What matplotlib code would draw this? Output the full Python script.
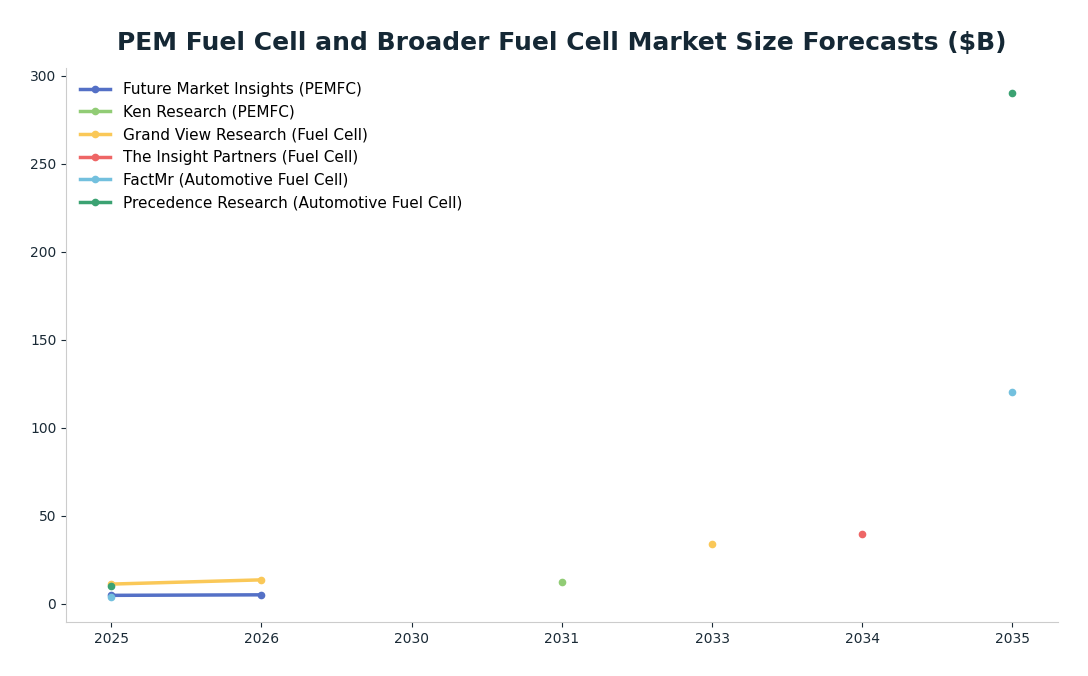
import numpy as np
import matplotlib
matplotlib.use("Agg")
import matplotlib.pyplot as plt

years = ["2025", "2026", "2030", "2031", "2033", "2034", "2035"]
nan = np.nan

fmi = [4.8, 5.1, nan, nan, nan, nan, nan]
ken = [nan, nan, nan, 12.5, nan, nan, nan]
grand_view = [11.2, 13.6, nan, nan, 34.0, nan, nan]
insight = [nan, nan, nan, nan, nan, 39.7, nan]
factmr = [4.0, nan, nan, nan, nan, nan, 120.3]
precedence = [10.2, nan, nan, nan, nan, nan, 290.0]

series = [
    ("Future Market Insights (PEMFC)", fmi, "#5470C6"),
    ("Ken Research (PEMFC)", ken, "#91CC75"),
    ("Grand View Research (Fuel Cell)", grand_view, "#FAC858"),
    ("The Insight Partners (Fuel Cell)", insight, "#EE6666"),
    ("FactMr (Automotive Fuel Cell)", factmr, "#73C0DE"),
    ("Precedence Research (Automotive Fuel Cell)", precedence, "#3BA272"),
]

fig = plt.figure(figsize=(10.88, 6.76), dpi=100)
ax = fig.add_axes([0.0607, 0.080, 0.9113, 0.819])

x = np.arange(len(years))
for name, vals, color in series:
    ax.plot(x, vals, color=color, lw=2.5, marker="o", markersize=4.5, label=name)

ax.set_xticks(x)
ax.set_xticklabels(years)
ax.tick_params(colors="#1a2a36", labelsize=10)
for s in ["top", "right"]:
    ax.spines[s].set_visible(False)
for s in ["left", "bottom"]:
    ax.spines[s].set_color("#cccccc")

ax.set_title("PEM Fuel Cell and Broader Fuel Cell Market Size Forecasts ($B)",
             fontsize=18, fontweight="bold", color="#152835", pad=13.5)
ax.legend(loc="upper left", frameon=False, fontsize=11, bbox_to_anchor=(0.0, 1.0))

plt.savefig("out.png", dpi=100)
